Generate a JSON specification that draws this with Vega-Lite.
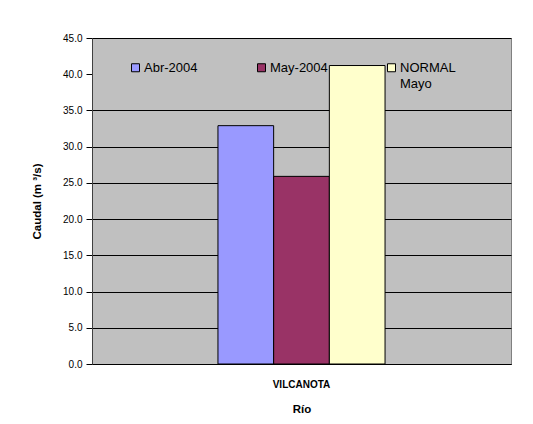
{
  "$schema": "https://vega.github.io/schema/vega-lite/v6.json",
  "width": 419,
  "height": 326,
  "autosize": {"type": "none"},
  "padding": {"left": 92, "top": 38, "right": 22, "bottom": 60},
  "background": "white",
  "data": {"values": [
    {"rio": "VILCANOTA", "serie": "Abr-2004", "caudal": 32.9},
    {"rio": "VILCANOTA", "serie": "May-2004", "caudal": 25.9},
    {"rio": "VILCANOTA", "serie": "NORMAL Mayo", "caudal": 41.2}
  ]},
  "mark": {"type": "bar", "stroke": "black", "strokeWidth": 1},
  "encoding": {
    "x": {
      "field": "rio", "type": "nominal", "title": "Río",
      "scale": {"paddingInner": 0, "paddingOuter": 0.754},
      "axis": {"labelAngle": 0, "ticks": false, "labelPadding": 15, "labelFontWeight": "bold", "labelFontSize": 10,
               "titleFontSize": 11.5, "titleFontWeight": "bold", "titlePadding": 14, "domainColor": "black", "grid": false}
    },
    "xOffset": {
      "field": "serie", "type": "nominal", "sort": ["Abr-2004", "May-2004", "NORMAL Mayo"],
      "scale": {"paddingInner": 0, "paddingOuter": 0}
    },
    "y": {
      "field": "caudal", "type": "quantitative", "title": "Caudal (m ³/s)",
      "scale": {"domain": [0, 45], "nice": false},
      "axis": {
        "values": [0, 5, 10, 15, 20, 25, 30, 35, 40, 45], "format": ".1f",
        "labelFontSize": 10, "tickSize": 6, "tickColor": "black", "labelPadding": 4,
        "domainColor": "#404040",
        "gridColor": {"condition": {"test": "datum.value === 40", "value": "transparent"}, "value": "black"},
        "gridOpacity": 1,
        "titleFontSize": 11.5, "titleFontWeight": "bold", "titlePadding": 20
      }
    },
    "color": {
      "field": "serie", "type": "nominal",
      "scale": {"domain": ["Abr-2004", "May-2004", "NORMAL Mayo"], "range": ["#9999FF", "#993366", "#FFFFCC"]},
      "legend": {
        "orient": "none", "legendX": 37, "legendY": 23, "direction": "horizontal", "columns": 3,
        "title": null, "symbolType": "square", "symbolSize": 64, "symbolStrokeColor": "black",
        "symbolStrokeWidth": 1, "symbolOpacity": 1, "labelFontSize": 13, "labelColor": "black",
        "labelOffset": 2, "columnPadding": 57, "padding": 0, "labelLimit": 200,
        "labelExpr": "datum.label === 'NORMAL Mayo' ? ['NORMAL', 'Mayo'] : [datum.label, ' ']",
        "encode": {
          "labels": {
            "update": {
              "lineHeight": {"value": 16}
            }
          }
        }
      }
    }
  },
  "config": {
    "font": "Liberation Sans",
    "view": {"fill": "#C0C0C0", "stroke": "#808080"},
    "axis": {"labelColor": "black", "titleColor": "black", "labelFont": "Liberation Sans", "titleFont": "Liberation Sans"},
    "legend": {"labelFont": "Liberation Sans"}
  }
}
